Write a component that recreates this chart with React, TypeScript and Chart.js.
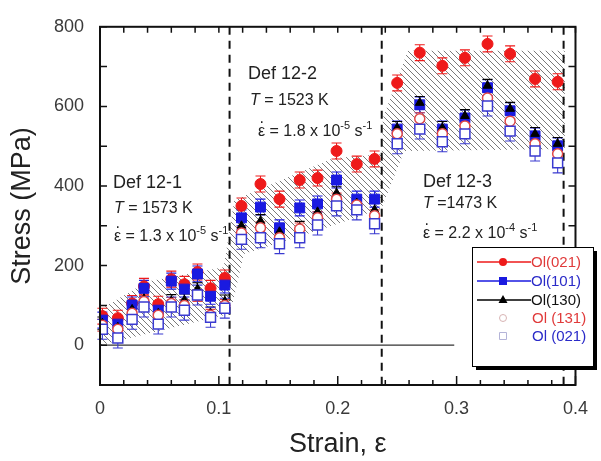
import { useEffect, useRef } from 'react';
import { Chart, registerables } from 'chart.js';
Chart.register(...registerables);

// ---- data ----
const strain = [
  0.002, 0.015, 0.027, 0.037, 0.049, 0.060, 0.071, 0.082, 0.093, 0.105,
  0.119, 0.135, 0.151, 0.168, 0.183, 0.199, 0.216, 0.231,
  0.250, 0.269, 0.288, 0.307, 0.326, 0.345, 0.366, 0.385,
];
const ol021Filled = [73, 68, 105, 148, 103, 166, 153, 184, 143, 169, 350, 405, 367, 415, 420, 488, 455, 468, 659, 735, 702, 722, 757, 732, 669, 662];
const ol101Filled = [63, 53, 101, 143, 88, 161, 141, 179, 123, 151, 320, 347, 295, 345, 355, 415, 367, 367, 543, 604, 543, 571, 647, 589, 526, 501];
const ol130Filled = [55, 45, 90, 116, 80, 111, 113, 141, 80, 110, 300, 312, 285, 295, 335, 382, 357, 340, 546, 609, 546, 576, 652, 594, 531, 506];
const ol131Open = [50, 40, 80, 110, 75, 105, 100, 125, 75, 100, 282, 295, 270, 292, 320, 367, 352, 325, 531, 569, 531, 551, 621, 563, 506, 481];
const ol021Open = [40, 18, 65, 96, 53, 96, 88, 126, 70, 93, 266, 270, 255, 270, 302, 350, 340, 305, 506, 543, 511, 531, 601, 538, 488, 458];
const errOl021Filled = 20;
const errOl101Filled = 20;
const errOl130Filled = 16;
const errOl131Open = 15;
const errOl021Open = 25;

// hatched band outline (strain, stress)
const bandX = [0, 0.04, 0.104, 0.113, 0.196, 0.237, 0.238, 0.259, 0.391, 0.391, 0.256, 0.237, 0.215, 0.182, 0.121, 0.112, 0.104, 0];
const bandY = [90, 160, 196, 365, 470, 480, 571, 740, 740, 493, 488, 345, 320, 287, 229, 110, 75, 0];

const dividers = [0.109, 0.237, 0.39];
const zeroLineEnd = 0.298;
const xTickLabels = [0, 0.1, 0.2, 0.3, 0.4];
const yTickLabels = [0, 200, 400, 600, 800];

const FONT = "'Liberation Sans', Arial, sans-serif";

const RED = '#ee1a1a';
const BLUE = '#1a1ae0';
const OPEN_RED = '#e04848';
const OPEN_BLUE = '#3a3ad0';

type Run = [string, number, boolean?, number?];

function drawRuns(ctx: CanvasRenderingContext2D, x: number, y: number, runs: Run[], color: string) {
  ctx.fillStyle = color;
  ctx.textBaseline = 'alphabetic';
  ctx.textAlign = 'left';
  for (const [t, size, italic, dy] of runs) {
    ctx.font = `${italic ? 'italic ' : ''}${size}px ${FONT}`;
    ctx.fillText(t, x, y + (dy || 0));
    x += ctx.measureText(t).width;
  }
}

function rateLine(ctx: CanvasRenderingContext2D, x: number, y: number, val: string, exp: string) {
  drawRuns(ctx, x, y, [['ε', 16], [' = ' + val + ' x 10', 16], [exp, 11, false, -7], [' s', 16], ['-1', 11, false, -7]], '#222');
  ctx.font = `16px ${FONT}`;
  ctx.fillText('.', x + 1.5, y - 13);
}

const overlayPlugin = {
  id: 'overlay',
  beforeDatasetsDraw(chart: any) {
    const { ctx, chartArea: a } = chart;
    const xs = chart.scales.x, ys = chart.scales.y;
    // hatched band
    ctx.save();
    ctx.beginPath();
    bandX.forEach((v, i) => {
      const px = xs.getPixelForValue(v), py = ys.getPixelForValue(bandY[i]);
      if (i === 0) ctx.moveTo(px, py); else ctx.lineTo(px, py);
    });
    ctx.closePath();
    ctx.clip();
    ctx.strokeStyle = '#7a7a7a';
    ctx.lineWidth = 1;
    const H = a.bottom - a.top;
    for (let c = a.left - H; c < a.right; c += 6) {
      ctx.beginPath();
      ctx.moveTo(c, a.top);
      ctx.lineTo(c + H, a.bottom);
      ctx.stroke();
    }
    ctx.restore();

    // zero line
    ctx.save();
    ctx.strokeStyle = '#333';
    ctx.lineWidth = 1.3;
    ctx.beginPath();
    ctx.moveTo(xs.getPixelForValue(0), ys.getPixelForValue(0));
    ctx.lineTo(xs.getPixelForValue(zeroLineEnd), ys.getPixelForValue(0));
    ctx.stroke();
    // dashed dividers
    ctx.strokeStyle = '#111';
    ctx.lineWidth = 2;
    ctx.setLineDash([8, 6]);
    dividers.forEach((d) => {
      const px = xs.getPixelForValue(d);
      ctx.beginPath();
      ctx.moveTo(px, a.top);
      ctx.lineTo(px, a.bottom);
      ctx.stroke();
    });
    ctx.setLineDash([]);

    // error bars
    const series: [number[], number, string][] = [
      [ol021Filled, errOl021Filled, RED],
      [ol101Filled, errOl101Filled, BLUE],
      [ol130Filled, errOl130Filled, '#000'],
      [ol131Open, errOl131Open, OPEN_RED],
      [ol021Open, errOl021Open, OPEN_BLUE],
    ];
    ctx.lineWidth = 1.1;
    series.forEach(([vals, e, col]) => {
      ctx.strokeStyle = col;
      vals.forEach((v, i) => {
        const px = xs.getPixelForValue(strain[i]);
        const y1 = ys.getPixelForValue(v + e), y2 = ys.getPixelForValue(v - e);
        ctx.beginPath();
        ctx.moveTo(px, y1); ctx.lineTo(px, y2);
        ctx.moveTo(px - 5, y1); ctx.lineTo(px + 5, y1);
        ctx.moveTo(px - 5, y2); ctx.lineTo(px + 5, y2);
        ctx.stroke();
      });
    });
    ctx.restore();
  },
  afterDraw(chart: any) {
    const { ctx, chartArea: a } = chart;
    const xs = chart.scales.x, ys = chart.scales.y;
    ctx.save();
    // frame
    ctx.strokeStyle = '#111';
    ctx.lineWidth = 2;
    ctx.strokeRect(a.left, a.top, a.right - a.left, a.bottom - a.top);
    // ticks
    ctx.lineWidth = 1.5;
    ctx.beginPath();
    for (let k = 0; k <= 20; k++) {
      const v = k * 0.02;
      const px = xs.getPixelForValue(v);
      const major = k % 5 === 0;
      ctx.moveTo(px, a.bottom); ctx.lineTo(px, a.bottom - (major ? 9 : 5));
      ctx.moveTo(px, a.top); ctx.lineTo(px, a.top + 6);
    }
    for (let k = -1; k <= 8; k++) {
      const py = ys.getPixelForValue(k * 100);
      ctx.moveTo(a.left, py); ctx.lineTo(a.left + 7, py);
      ctx.moveTo(a.right, py); ctx.lineTo(a.right - 7, py);
    }
    ctx.stroke();

    // annotations
    ctx.fillStyle = '#222';
    ctx.font = `18px ${FONT}`;
    ctx.textBaseline = 'middle';
    ctx.fillText('Def 12-1', 113, 183);
    ctx.fillText('Def 12-2', 248, 74);
    ctx.fillText('Def 12-3', 423, 182);
    drawRuns(ctx, 114, 213, [['T', 16, true], [' = 1573 K', 16]], '#222');
    drawRuns(ctx, 250, 105, [['T', 16, true], [' = 1523 K', 16]], '#222');
    drawRuns(ctx, 423, 208, [['T', 16, true], [' =1473 K', 16]], '#222');
    rateLine(ctx, 114, 241, '1.3', '-5');
    rateLine(ctx, 258, 136, '1.8', '-5');
    rateLine(ctx, 423, 238, '2.2', '-4');

    // legend
    const lx = 472, ly = 247, lw = 121, lh = 119;
    ctx.fillStyle = '#000';
    ctx.fillRect(lx + 4, ly + 4, lw, lh);
    ctx.fillStyle = '#fff';
    ctx.fillRect(lx, ly, lw, lh);
    ctx.strokeStyle = '#000';
    ctx.lineWidth = 1;
    ctx.strokeRect(lx + 0.5, ly + 0.5, lw, lh);
    const rows: [string, string, string, number][] = [
      ['Ol(021)', RED, 'circle', 262],
      ['Ol(101)', BLUE, 'rect', 281],
      ['Ol(130)', '#000', 'triangle', 300],
      ['Ol (131)', OPEN_RED, 'ocircle', 318],
      ['Ol (021)', OPEN_BLUE, 'orect', 336],
    ];
    rows.forEach(([label, col, mk, y]) => {
      const mx = 503;
      if (mk === 'circle' || mk === 'rect' || mk === 'triangle') {
        ctx.strokeStyle = col;
        ctx.lineWidth = 1.5;
        ctx.beginPath();
        ctx.moveTo(477, y); ctx.lineTo(531, y);
        ctx.stroke();
        ctx.fillStyle = col;
        ctx.beginPath();
        if (mk === 'circle') ctx.arc(mx, y, 4, 0, Math.PI * 2);
        else if (mk === 'rect') ctx.rect(mx - 4, y - 4, 8, 8);
        else { ctx.moveTo(mx, y - 5); ctx.lineTo(mx + 4.5, y + 3); ctx.lineTo(mx - 4.5, y + 3); ctx.closePath(); }
        ctx.fill();
      } else {
        ctx.strokeStyle = mk === 'ocircle' ? '#d8b4b4' : '#b4b4d8';
        ctx.lineWidth = 1;
        ctx.beginPath();
        if (mk === 'ocircle') ctx.arc(mx, y, 3.5, 0, Math.PI * 2);
        else ctx.rect(mx - 3.5, y - 3.5, 7, 7);
        ctx.stroke();
      }
      ctx.fillStyle = mk === 'triangle' ? '#111' : (mk === 'circle' || mk === 'ocircle' ? '#e03a3a' : '#2a2ac8');
      ctx.font = `15px ${FONT}`;
      ctx.textBaseline = 'middle';
      ctx.textAlign = 'left';
      ctx.fillText(label, mk.startsWith('o') ? 532 : 531, y + 1);
    });
    ctx.restore();
  },
};

export default function App() {
  const ref = useRef<HTMLCanvasElement | null>(null);
  useEffect(() => {
    if (!ref.current) return;
    const pts = (vals: number[]) => vals.map((v, i) => ({ x: strain[i], y: v }));
    const chart = new Chart(ref.current, {
      type: 'scatter',
      data: {
        datasets: [
          { label: 'Ol(021)', data: pts(ol021Filled), pointStyle: 'circle', pointRadius: 5.5, backgroundColor: RED, borderColor: RED, borderWidth: 1, order: 5 },
          { label: 'Ol(101)', data: pts(ol101Filled), pointStyle: 'rect', pointRadius: 7, backgroundColor: BLUE, borderColor: BLUE, borderWidth: 1, order: 4 },
          { label: 'Ol(130)', data: pts(ol130Filled), pointStyle: 'triangle', pointRadius: 5, backgroundColor: '#000', borderColor: '#000', borderWidth: 1, order: 3 },
          { label: 'Ol (131)', data: pts(ol131Open), pointStyle: 'circle', pointRadius: 5, backgroundColor: '#fff', borderColor: OPEN_RED, borderWidth: 1.5, order: 2 },
          { label: 'Ol (021)', data: pts(ol021Open), pointStyle: 'rect', pointRadius: 7, backgroundColor: '#fff', borderColor: OPEN_BLUE, borderWidth: 1.5, order: 1 },
        ],
      },
      options: {
        animation: false,
        responsive: false,
        events: [],
        layout: { padding: { top: 26, right: 17, left: 0, bottom: 0 } },
        plugins: { legend: { display: false }, tooltip: { enabled: false } },
        scales: {
          x: {
            type: 'linear',
            min: 0,
            max: 0.4,
            grid: { display: false, drawTicks: false },
            border: { display: false },
            afterBuildTicks: (s: any) => { s.ticks = xTickLabels.map((v) => ({ value: v })); },
            afterFit: (s: any) => { s.height = 76; },
            ticks: { padding: 13, color: '#3a3a3a', font: { size: 18, family: FONT }, callback: (v: any) => String(v) },
            title: { display: true, text: 'Strain, ε', color: '#222', font: { size: 27, family: FONT }, padding: { top: 4, bottom: 0 } },
          },
          y: {
            type: 'linear',
            min: -100,
            max: 800,
            grid: { display: false, drawTicks: false },
            border: { display: false },
            afterBuildTicks: (s: any) => { s.ticks = yTickLabels.map((v) => ({ value: v })); },
            afterFit: (s: any) => { s.width = 100; },
            ticks: { padding: 16, color: '#3a3a3a', font: { size: 18, family: FONT } },
            title: { display: true, text: 'Stress (MPa)', color: '#222', font: { size: 27, family: FONT }, padding: { top: 6, bottom: 0 } },
          },
        },
      },
      plugins: [overlayPlugin],
    });
    return () => chart.destroy();
  }, []);
  return (
    <div style={{ position: 'fixed', left: 0, top: 0, width: 601, height: 461, background: '#fff' }}>
      <canvas ref={ref} width={601} height={461} style={{ width: 601, height: 461 }} />
    </div>
  );
}
